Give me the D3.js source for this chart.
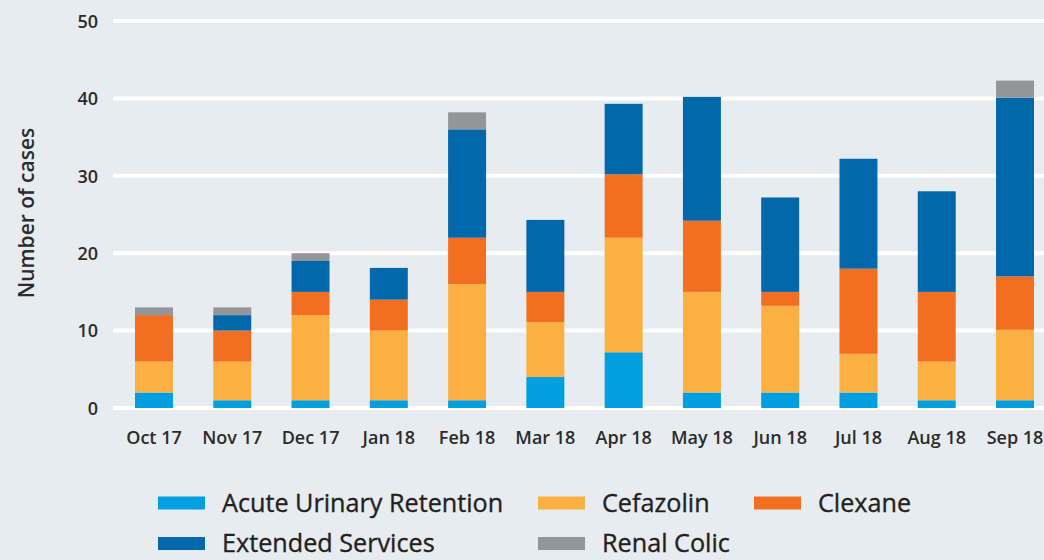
<!DOCTYPE html>
<html>
<head>
<meta charset="utf-8">
<script src="https://cdn.jsdelivr.net/npm/d3@7"></script>
<style>
  html, body { margin: 0; padding: 0; background: #e7ecf0; }
  svg { display: block; font-family: "Open Sans", "Noto Sans", sans-serif; }
</style>
</head>
<body>
<svg id="chart" width="1044" height="560"></svg>
<script>
const months = ["Oct 17","Nov 17","Dec 17","Jan 18","Feb 18","Mar 18","Apr 18","May 18","Jun 18","Jul 18","Aug 18","Sep 18"];
const seriesNames = ["Acute Urinary Retention","Cefazolin","Clexane","Extended Services","Renal Colic"];
const acuteUrinaryRetention = [2, 1, 1, 1, 1, 4, 7.2, 2, 2, 2, 1, 1];
const cefazolin            = [4, 5, 11, 9, 15, 7.1, 14.8, 13, 11.2, 5, 5, 9.1];
const clexane              = [6, 4, 3, 4, 6, 3.9, 8.2, 9.2, 1.8, 11, 9, 6.9];
const extendedServices     = [0, 2, 4, 4.1, 14, 9.3, 9.1, 16, 12.2, 14.2, 13, 23.1];
const renalColic           = [1, 1, 1, 0, 2.2, 0, 0, 0, 0, 0, 0, 2.2];
const yTicks = [0, 10, 20, 30, 40, 50];
const colors = ["#009fdf", "#fbb041", "#f26f22", "#0068ab", "#939598"];

const seriesValues = [acuteUrinaryRetention, cefazolin, clexane, extendedServices, renalColic];
const rows = months.map((m, i) => {
  const r = { month: m };
  seriesNames.forEach((s, j) => { r[s] = seriesValues[j][i]; });
  return r;
});

const svg = d3.select("#chart");
const W = 1044;

const x = d3.scaleBand().domain(months).range([135, 1034]).paddingInner(0.515).paddingOuter(0);
const y = d3.scaleLinear().domain([0, 50]).range([408, 21]);

// gridlines
svg.append("g").selectAll("line").data(yTicks).join("line")
  .attr("x1", 113).attr("x2", W)
  .attr("y1", d => y(d)).attr("y2", d => y(d))
  .attr("stroke", "#ffffff").attr("stroke-width", 4);

// y tick labels
const yAxis = d3.axisLeft(y).tickValues(yTicks).tickSize(0).tickPadding(0);
const yg = svg.append("g").attr("transform", "translate(98,0)").call(yAxis);
yg.select(".domain").remove();
yg.selectAll("text").attr("font-size", 18).attr("font-weight", 600).attr("fill", "#2b2b2b")
  .attr("font-family", "'Open Sans', sans-serif").attr("dy", "0.35em");

// stacked bars
const stack = d3.stack().keys(seriesNames);
const stacked = stack(rows);
svg.append("g").selectAll("g").data(stacked).join("g")
  .attr("fill", (d, i) => colors[i])
  .selectAll("rect").data(d => d).join("rect")
  .attr("x", d => x(d.data.month))
  .attr("width", x.bandwidth())
  .attr("y", d => y(d[1]))
  .attr("height", d => Math.max(0, y(d[0]) - y(d[1])));

// x labels
const xAxis = d3.axisBottom(x).tickSize(0).tickPadding(0);
const xg = svg.append("g").attr("transform", "translate(0,438)").call(xAxis);
xg.select(".domain").remove();
xg.selectAll("text").attr("font-size", 18).attr("font-weight", 600).attr("fill", "#2b2b2b")
  .attr("font-family", "'Open Sans', sans-serif").attr("dy", "0.35em");

// y title
svg.append("text")
  .attr("transform", "translate(34,213) rotate(-90)")
  .attr("text-anchor", "middle")
  .attr("font-size", 21).attr("font-weight", 600).attr("fill", "#2b2b2b")
  .text("Number of cases");

// legend
const legendPos = [
  { x: 158, y: 503 }, { x: 538, y: 503 }, { x: 754, y: 503 },
  { x: 158, y: 543.5 }, { x: 538, y: 543.5 }
];
const lg = svg.append("g").selectAll("g").data(seriesNames).join("g")
  .attr("transform", (d, i) => `translate(${legendPos[i].x},${legendPos[i].y})`);
lg.append("rect").attr("x", 0).attr("y", -6.5).attr("width", 47).attr("height", 13)
  .attr("fill", (d, i) => colors[i]);
lg.append("text").attr("x", 64).attr("y", 8.5)
  .attr("font-size", 25.2).attr("fill", "#231f20")
  .attr("stroke", "#231f20").attr("stroke-width", 0.35)
  .text(d => d);
</script>
</body>
</html>
